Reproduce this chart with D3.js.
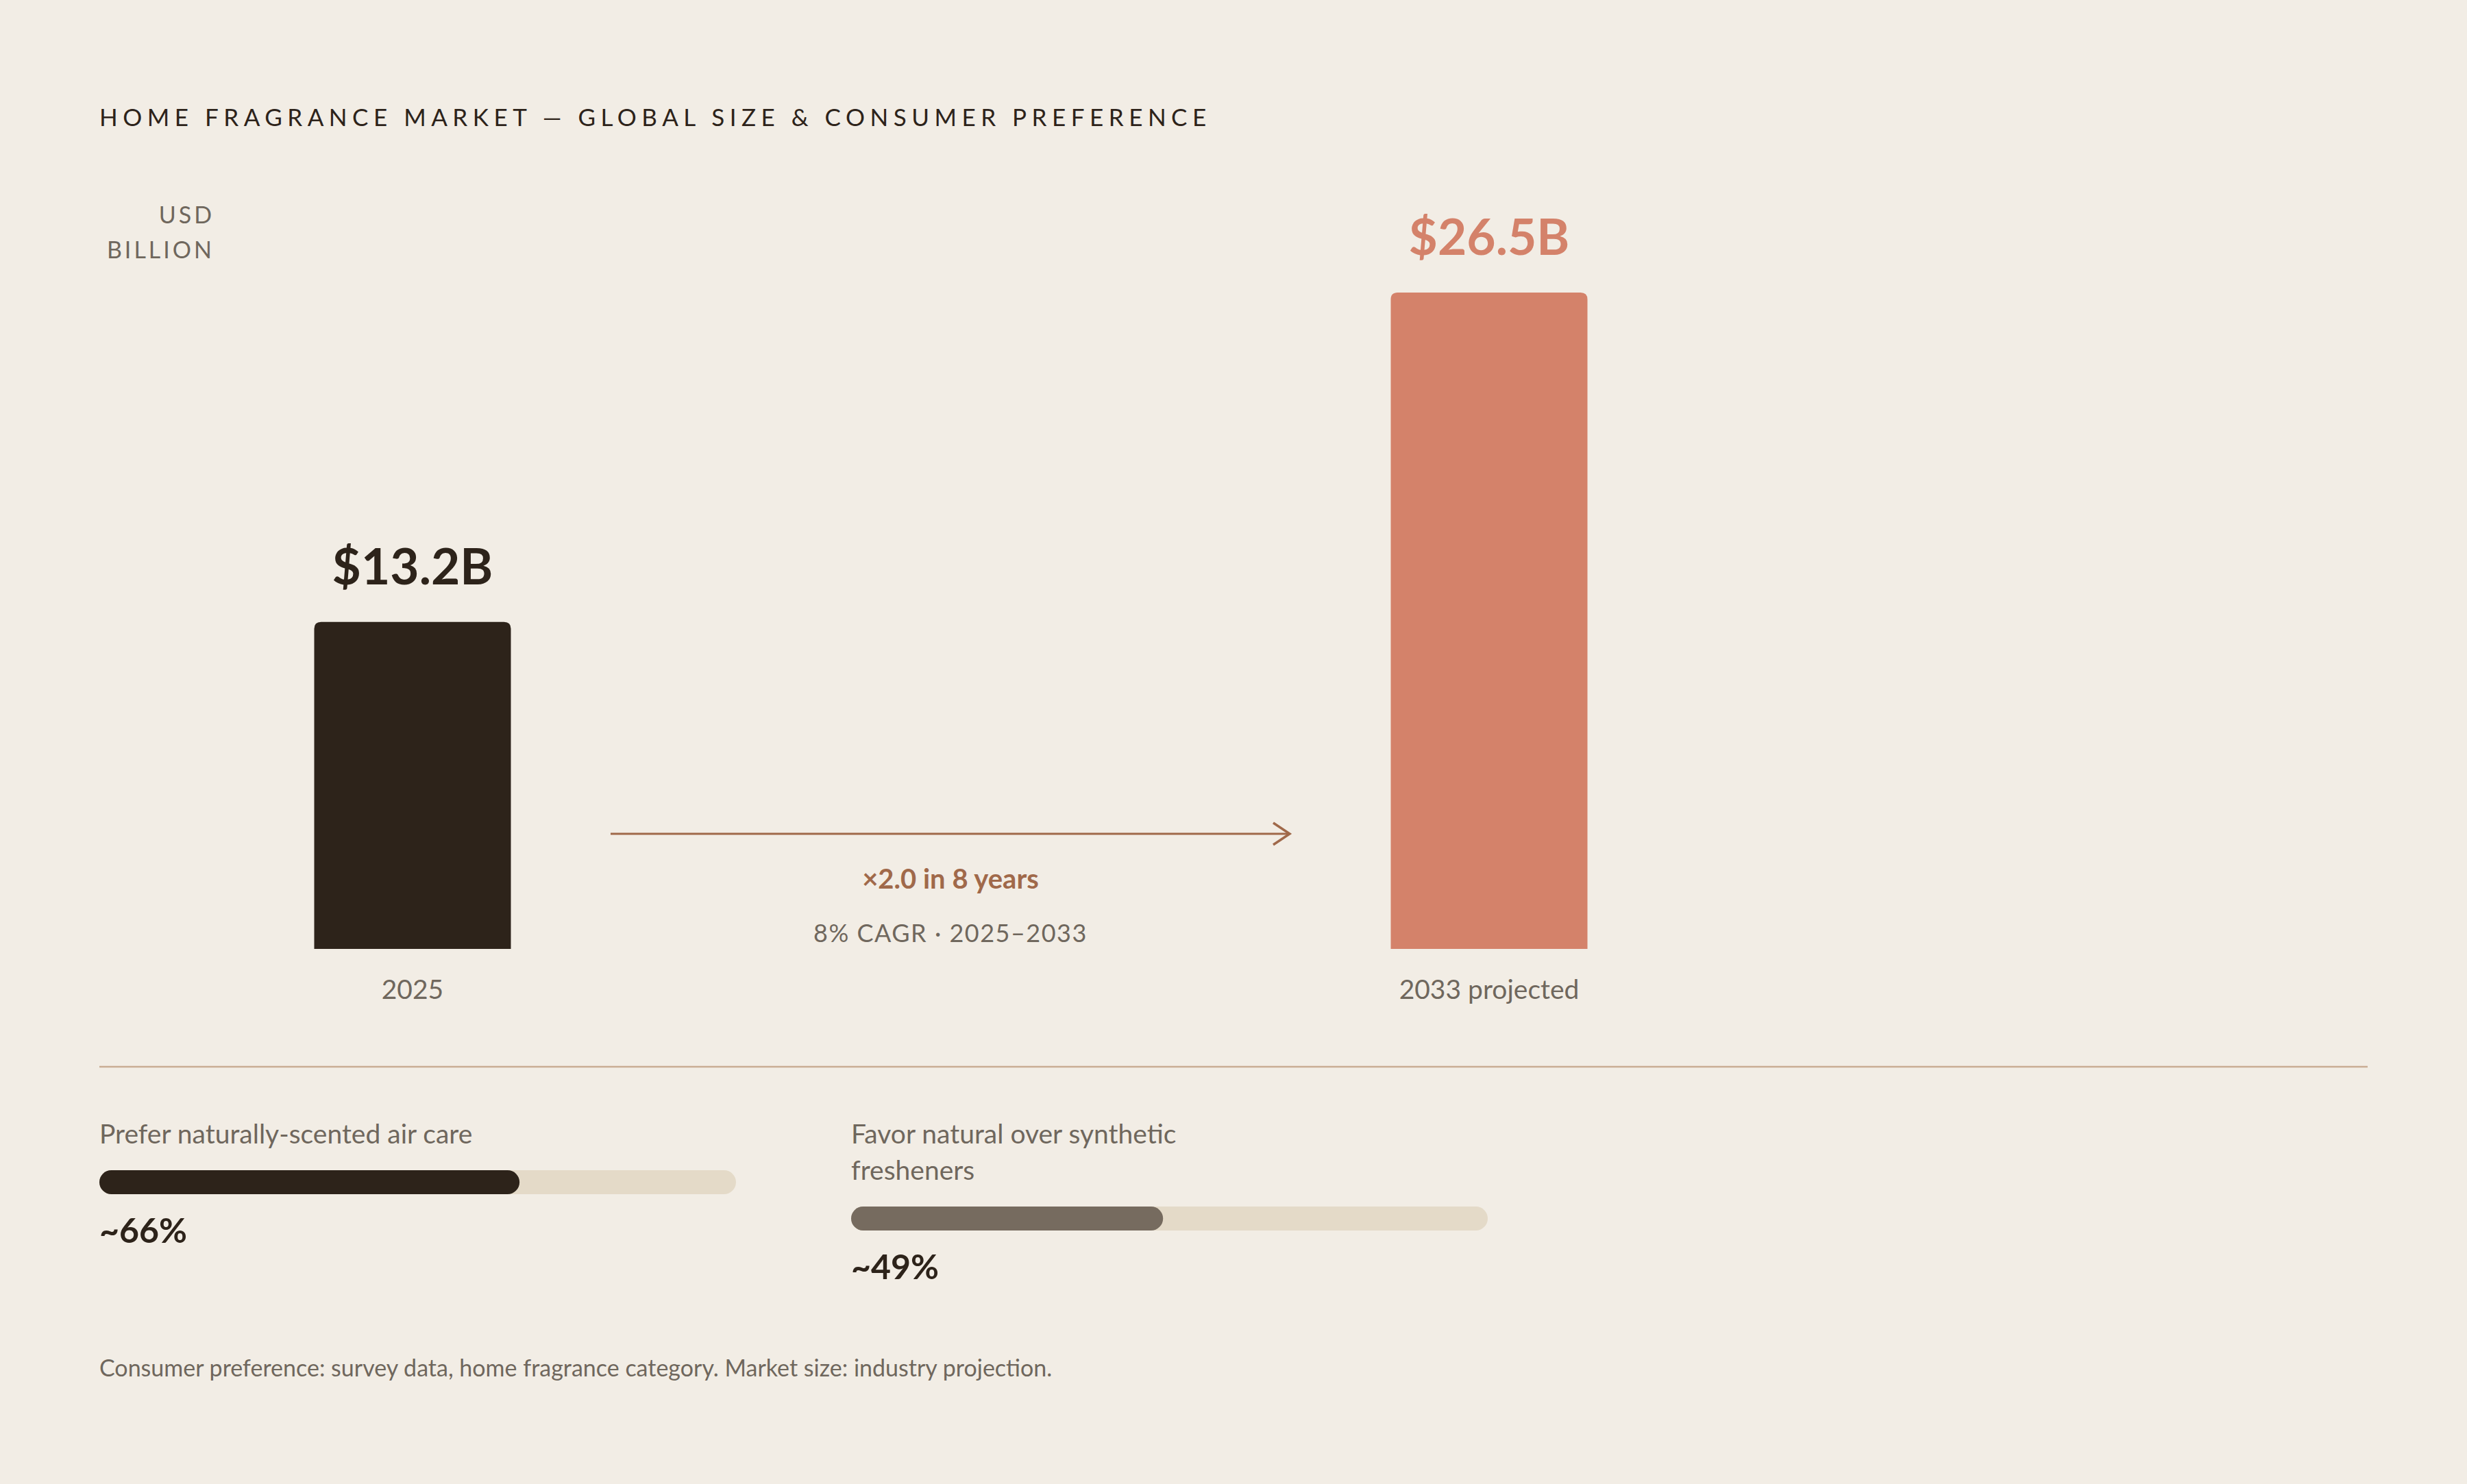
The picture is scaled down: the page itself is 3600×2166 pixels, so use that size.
<!DOCTYPE html>
<html>
<head>
<meta charset="utf-8">
<script src="https://cdn.jsdelivr.net/npm/d3@7"></script>
<style>
  html, body { margin: 0; padding: 0; background: #f2ede5; }
  svg { display: block; font-family: Lato, "Noto Sans", sans-serif; }
</style>
</head>
<body>
<svg id="chart" width="3600" height="2166"></svg>
<script>
// market size
const years = ["2025", "2033 projected"];
const marketValues = [13.2, 26.5];
const valueLabels = ["$13.2B", "$26.5B"];
const barColors = ["#2d231a", "#d4826a"];

// consumer preference
const prefLabels = [["Prefer naturally-scented air care"], ["Favor natural over synthetic", "fresheners"]];
const prefValues = [66, 49];
const prefText = ["~66%", "~49%"];
const prefColors = ["#2d231a", "#766b5f"];

const svg = d3.select("#chart");
const muted = "#6f675d";

svg.append("rect").attr("width", 3600).attr("height", 2166).attr("fill", "#f2ede5");

svg.append("text")
  .attr("x", 145).attr("y", 184)
  .attr("font-size", 35).attr("letter-spacing", 7.5)
  .attr("fill", "#2d231a")
  .text("HOME FRAGRANCE MARKET — GLOBAL SIZE & CONSUMER PREFERENCE");

svg.append("text")
  .attr("text-anchor", "end").attr("font-size", 34).attr("letter-spacing", 4)
  .attr("fill", muted)
  .selectAll("tspan").data(["USD", "BILLION"]).join("tspan")
  .attr("x", 313).attr("y", (d, i) => 326 + i * 51)
  .text(d => d);

// bars
const x = d3.scaleOrdinal().domain(years).range([602, 2173]);
const y = d3.scaleLinear().domain([0, 26.5]).range([1385, 427]);
const bw = 287;

const bars = svg.append("g").selectAll("g").data(years).join("g");
bars.append("path")
  .attr("fill", (d, i) => barColors[i])
  .attr("d", (d, i) => {
    const x0 = x(d) - bw / 2, y0 = y(marketValues[i]), y1 = y(0), r = 10;
    return `M${x0},${y1}V${y0 + r}Q${x0},${y0} ${x0 + r},${y0}H${x0 + bw - r}Q${x0 + bw},${y0} ${x0 + bw},${y0 + r}V${y1}Z`;
  });
bars.append("text")
  .attr("x", d => x(d)).attr("y", (d, i) => y(marketValues[i]) - 55)
  .attr("text-anchor", "middle").attr("font-size", 73).attr("font-weight", 700)
  .attr("fill", (d, i) => barColors[i])
  .text((d, i) => valueLabels[i]);
bars.append("text")
  .attr("x", d => x(d)).attr("y", 1458)
  .attr("text-anchor", "middle").attr("font-size", 39).attr("fill", muted)
  .text(d => d);

// growth arrow
const arrowColor = "#a0694a";
svg.append("line").attr("x1", 891).attr("x2", 1881).attr("y1", 1217).attr("y2", 1217)
  .attr("stroke", arrowColor).attr("stroke-width", 3);
svg.append("path").attr("d", "M1858,1201L1882,1217L1858,1233")
  .attr("fill", "none").attr("stroke", arrowColor).attr("stroke-width", 3.5);
svg.append("text").attr("x", 1387).attr("y", 1297).attr("text-anchor", "middle")
  .attr("font-size", 40).attr("font-weight", 700).attr("fill", arrowColor)
  .text("×2.0 in 8 years");
svg.append("text").attr("x", 1387).attr("y", 1375).attr("text-anchor", "middle")
  .attr("font-size", 36).attr("letter-spacing", 1.5).attr("fill", muted)
  .text("8% CAGR · 2025–2033");

// divider
svg.append("line").attr("x1", 145).attr("x2", 3455).attr("y1", 1557).attr("y2", 1557)
  .attr("stroke", "#c9ad94").attr("stroke-width", 2.5);

// preference bars
const px = d3.scaleLinear().domain([0, 100]).range([0, 929]);
const prefX = [145, 1242];
const pref = svg.append("g").selectAll("g").data(prefValues).join("g")
  .attr("transform", (d, i) => `translate(${prefX[i]},0)`);
pref.each(function (d, i) {
  const g = d3.select(this);
  const lines = prefLabels[i];
  const barY = 1669 + (lines.length - 1) * 53 + 39;
  g.append("text").attr("font-size", 39).attr("fill", muted)
    .selectAll("tspan").data(lines).join("tspan")
    .attr("x", 0).attr("y", (t, j) => 1669 + j * 53).text(t => t);
  g.append("rect").attr("y", barY).attr("width", px(100)).attr("height", 35)
    .attr("rx", 17.5).attr("fill", "#e4dac8");
  g.append("rect").attr("y", barY).attr("width", px(d)).attr("height", 35)
    .attr("rx", 17.5).attr("fill", prefColors[i]);
  g.append("text").attr("y", barY + 106).attr("font-size", 50).attr("font-weight", 700)
    .attr("fill", "#2d231a").text(prefText[i]);
});

svg.append("text").attr("x", 145).attr("y", 2009).attr("font-size", 34).attr("fill", muted)
  .text("Consumer preference: survey data, home fragrance category. Market size: industry projection.");
</script>
</body>
</html>
